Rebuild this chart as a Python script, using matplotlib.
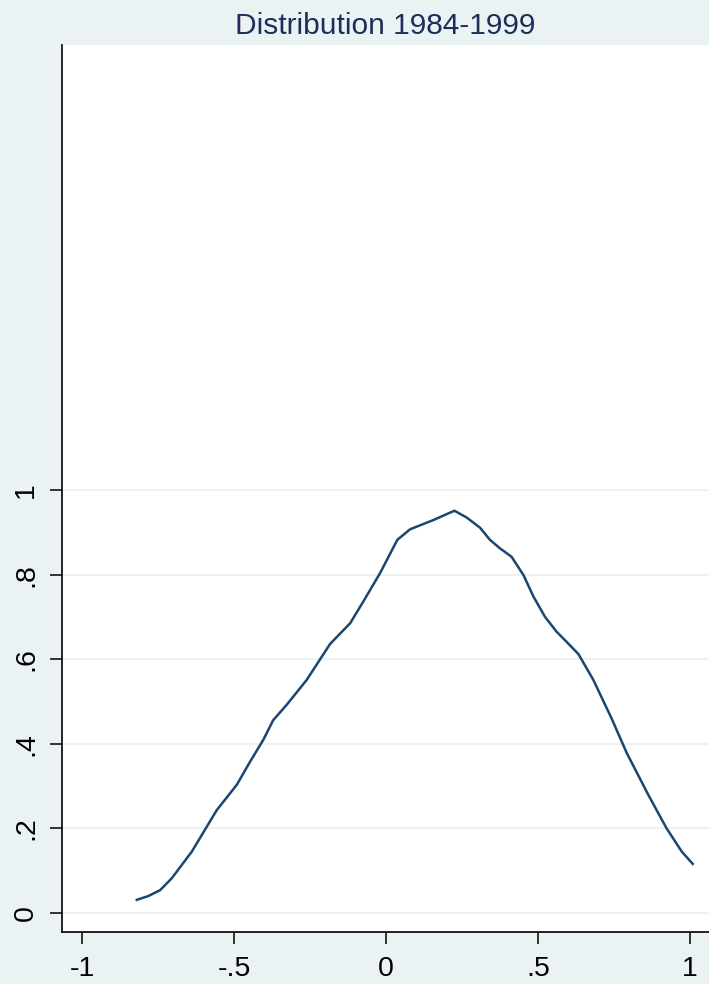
import matplotlib
matplotlib.use("Agg")
import matplotlib.pyplot as plt

plt.rcParams['font.family'] = ['Liberation Sans', 'DejaVu Sans']

# kernel density estimate, 1984-1999
xvals = [-0.820, -0.782, -0.743, -0.705, -0.639, -0.557, -0.491, -0.447, -0.404,
         -0.371, -0.327, -0.261, -0.184, -0.118, -0.075, -0.020, 0.037, 0.079,
         0.156, 0.225, 0.265, 0.309, 0.342, 0.375, 0.413, 0.452, 0.485, 0.523,
         0.561, 0.594, 0.633, 0.682, 0.742, 0.792, 0.863, 0.923, 0.973, 1.009]
density = [0.031, 0.040, 0.054, 0.082, 0.145, 0.243, 0.303, 0.358, 0.409,
           0.456, 0.492, 0.551, 0.636, 0.685, 0.736, 0.803, 0.882, 0.907,
           0.929, 0.951, 0.935, 0.911, 0.882, 0.862, 0.842, 0.799, 0.748, 0.700,
           0.665, 0.641, 0.612, 0.551, 0.460, 0.378, 0.279, 0.200, 0.145, 0.116]

xticks = [-1, -0.5, 0, 0.5, 1]
xticklabels = ['-1', '-.5', '0', '.5', '1']
yticks = [0, 0.2, 0.4, 0.6, 0.8, 1]
yticklabels = ['0', '.2', '.4', '.6', '.8', '1']

bg = '#EAF2F3'
navy = '#1A476F'

fig = plt.figure(figsize=(7.09, 9.84), dpi=100, facecolor=bg)
ax = fig.add_axes([62 / 709, 52 / 984, 647 / 709, 887 / 984])
ax.set_facecolor('white')

ax.plot(xvals, density, color=navy, linewidth=1.8, zorder=3)

ax.set_xlim(-1.066, 1.0625)
ax.set_ylim(-0.045, 2.052)

ax.set_xticks(xticks)
ax.set_xticklabels(xticklabels)
ax.set_yticks(yticks)
ax.set_yticklabels(yticklabels, rotation=90, va='center')

ax.grid(axis='y', color=bg, linewidth=1.5)
ax.set_axisbelow(True)

for side in ['top', 'right']:
    ax.spines[side].set_visible(False)
for side in ['left', 'bottom']:
    ax.spines[side].set_color('black')
    ax.spines[side].set_linewidth(1.2)

ax.tick_params(axis='both', length=8.5, width=1.1, color='black',
               labelsize=20.5, labelcolor='black')
ax.tick_params(axis='x', pad=9)
ax.tick_params(axis='y', pad=8)

fig.text((62 + 709) / 2 / 709, 1 - 26 / 984, 'Distribution 1984-1999',
         ha='center', va='center', fontsize=21.5, color='#1E2D5A')

fig.savefig('out.png', dpi=100, facecolor=bg)
